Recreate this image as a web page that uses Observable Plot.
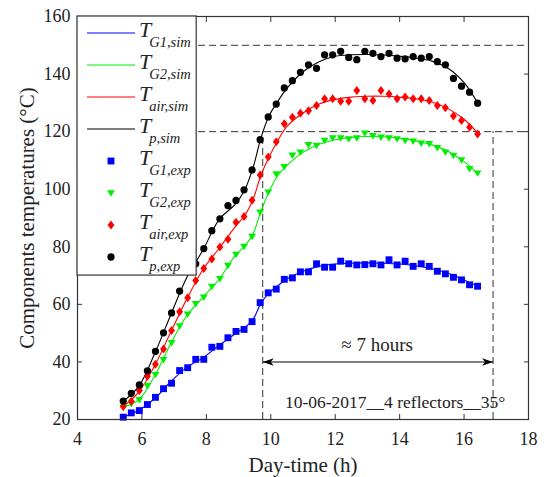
<!DOCTYPE html>
<html><head><meta charset="utf-8">
<script src="https://cdn.jsdelivr.net/npm/d3@7"></script>
<script src="https://cdn.jsdelivr.net/npm/@observablehq/plot@0.6"></script>
<style>
body{margin:0;background:#fff}
#chart{width:544px;height:477px}
#chart svg text, #chart svg tspan{font-family:"Liberation Serif","Times New Roman",serif !important;font-variant:normal !important}
</style>
</head><body><div id="chart"></div>
<script>
// ---- data ----
const expTime = [5.42,5.67,5.92,6.17,6.42,6.67,6.92,7.17,7.42,7.67,7.92,8.17,8.42,8.67,8.92,9.17,9.42,9.67,9.92,10.17,10.42,10.67,10.92,11.17,11.42,11.67,11.92,12.17,12.42,12.67,12.92,13.17,13.42,13.67,13.92,14.17,14.42,14.67,14.92,15.17,15.42,15.67,15.92,16.17,16.42];
const TG1exp = [20.8,22.3,23.1,25.2,27.7,30.7,32.6,37.0,38.0,40.9,40.9,45.1,45.4,48.4,50.6,51.3,54.0,60.6,64.0,65.3,68.7,69.2,71.3,71.3,74.1,72.9,72.9,75.0,74.1,73.7,73.8,74.1,73.7,75.5,73.7,75.0,73.2,74.1,73.2,71.5,70.6,69.4,68.5,66.8,66.3];
const TG2exp = [24.3,25.5,26.9,31.7,35.6,40.8,46.7,52.5,56.6,60.2,62.5,66.2,68.9,73.5,77.3,80.1,83.6,92.0,99.0,105.3,107.8,111.8,112.9,115.5,115.2,116.9,117.8,117.8,117.5,117.8,119.5,118.6,118.1,117.8,117.5,116.9,116.7,116.0,115.8,114.4,112.9,111.7,110.2,107.1,105.6];
const Tairexp = [24.5,26.3,30.1,35.0,39.2,44.5,50.9,57.4,62.3,68.3,72.5,75.8,79.9,82.6,88.5,90.5,96.2,104.9,111.2,116.5,122.7,125.0,126.4,127.3,129.1,131.4,131.4,130.6,130.6,134.3,131.4,130.8,134.3,133.1,131.4,132.0,131.4,131.4,130.8,129.1,128.3,125.4,123.9,121.5,119.2];
const Tpexp = [26.4,29.1,32.0,36.9,43.7,50.1,57.0,64.6,71.5,74.1,79.4,85.6,89.7,94.3,96.1,99.8,106.7,117.2,125.1,129.6,135.2,137.7,140.6,143.2,142.0,146.7,146.7,147.9,145.8,145.0,147.9,147.2,146.1,147.2,145.5,145.3,146.1,145.5,146.1,144.3,143.2,138.5,135.8,133.7,129.9];

const simTime = [5.42,5.9,6.4,6.9,7.4,7.9,8.4,8.9,9.2,9.45,9.7,9.95,10.2,10.5,11,11.5,12,12.5,13,13.5,14,14.5,15,15.5,16,16.42];
const TG1sim = [20.8,23.2,27.3,33.2,38.2,41.5,45.8,49.8,52.0,54.8,60.5,64.0,66.3,68.8,71.5,73.2,74.0,74.3,74.4,74.3,74.0,73.4,72.4,70.8,68.5,66.3];
const TG2sim = [24.3,26.8,35.3,46.5,56.2,62.5,68.8,77.0,80.3,84.5,92.5,99.2,104.5,108.3,112.8,115.6,117.2,118.0,118.3,118.2,117.7,116.8,115.4,113.2,109.6,105.5];
const Tairsim = [24.5,29.5,38.8,50.5,62.0,72.2,79.5,87.0,91.0,96.5,105.0,111.3,116.5,121.8,126.5,129.6,131.2,132.0,132.3,132.3,132.0,131.4,130.3,128.0,124.3,119.5];
const Tpsim = [26.3,31.5,43.0,56.5,69.5,79.0,89.5,94.8,100.0,107.5,118.0,125.6,130.2,135.0,140.8,144.3,146.2,146.7,146.8,146.6,146.2,145.6,144.5,142.0,137.0,130.0];

const xTicks = [4,6,8,10,12,14,16,18];
const yTicks = [20,40,60,80,100,120,140,160];
const seriesKeys = ["G1","G2","air","p"];
const seriesColors = ["#0000ff","#00ee00","#ff0000","#000000"];
const simLabels = ["G1,sim","G2,sim","air,sim","p,sim"];
const expLabels = ["G1,exp","G2,exp","air,exp","p,exp"];

const refLevels = [150,120];          // horizontal dashed lines
const windowEdges = [9.75,16.9];      // vertical dashed lines (≈ 7 hours window)
const windowTop = 120;
const arrowLevel = 40;
const notes = [
  {x:13.3, y:46.0, text:"≈ 7 hours", size:19},
  {x:13.86, y:25.9, text:"10-06-2017__4 reflectors__35°", size:17.5}
];
const legendRight = 7.7, legendBottom = 70;
const xLabel = "Day-time (h)";
const yLabel = "Components temperatures (°C)";

const FONT = "Liberation Serif, Times New Roman, serif";

// ---- symbols ----
const rad = size => Math.sqrt(size/Math.PI);
const symSquare = {draw(c,size){const h=rad(size)*0.93; c.rect(-h,-h,2*h,2*h);}};
const symTriDown = {draw(c,size){const r=rad(size); const w=r*1.08, t=r*0.75, b=r*1.05; c.moveTo(-w,-t); c.lineTo(w,-t); c.lineTo(0,b); c.closePath();}};
const symDiamond = {draw(c,size){const r=rad(size); const w=r*0.95, h=r*1.25; c.moveTo(0,-h); c.lineTo(w,0); c.lineTo(0,h); c.lineTo(-w,0); c.closePath();}};
const symCircle = {draw(c,size){const r=rad(size)*0.98; c.moveTo(r,0); c.arc(0,0,r,0,2*Math.PI);}};
const headLeft = {draw(c){c.moveTo(0,0); c.lineTo(11,-3.8); c.lineTo(8,0); c.lineTo(11,3.8); c.closePath();}};
const headRight = {draw(c){c.moveTo(0,0); c.lineTo(-11,-3.8); c.lineTo(-8,0); c.lineTo(-11,3.8); c.closePath();}};

const symbols = [symSquare, symTriDown, symDiamond, symCircle];
const radii = [3.7, 3.6, 3.6, 3.7];
const expSeries = [TG1exp, TG2exp, Tairexp, Tpexp];
const simSeries = [TG1sim, TG2sim, Tairsim, Tpsim];

const dashStyle = {stroke:"#333", strokeWidth:1, strokeDasharray:"7,4"};

const marks = [];
marks.push(Plot.ruleY(refLevels, {...dashStyle}));
marks.push(Plot.ruleX(windowEdges, {y1:20, y2:windowTop, ...dashStyle}));
seriesKeys.forEach((k,si) => {
  marks.push(Plot.line(simTime.map((t,i)=>({t, v:simSeries[si][i]})),
    {x:"t", y:"v", stroke:seriesColors[si], strokeWidth:1.1, curve:"catmull-rom"}));
});
seriesKeys.forEach((k,si) => {
  marks.push(Plot.dot(expTime.map((t,i)=>({t, v:expSeries[si][i]})),
    {x:"t", y:"v", fill:seriesColors[si], stroke:"none", symbol:symbols[si], r:radii[si]}));
});
marks.push(Plot.link([{a:windowEdges[0], b:windowEdges[1], y:arrowLevel}], {x1:"a", x2:"b", y1:"y", y2:"y", stroke:"#000", strokeWidth:1.1}));
marks.push(Plot.dot([{x:windowEdges[0], y:arrowLevel}], {x:"x", y:"y", symbol:headLeft, fill:"#000", stroke:"none", r:4}));
marks.push(Plot.dot([{x:windowEdges[1], y:arrowLevel}], {x:"x", y:"y", symbol:headRight, fill:"#000", stroke:"none", r:4}));
notes.forEach(n => marks.push(Plot.text([n], {x:"x", y:"y", text:"text", fontSize:n.size, fontFamily:FONT, fill:"#222"})));
marks.push(Plot.axisX(xTicks, {anchor:"bottom", tickSize:0, tickPadding:13, fontSize:18, fontFamily:FONT, fill:"#222"}));
marks.push(Plot.axisY(yTicks, {anchor:"left", tickSize:0, tickPadding:7, fontSize:18, fontFamily:FONT, fill:"#222"}));
const innerX = xTicks.slice(1,-1), innerY = yTicks.slice(1,-1);
marks.push(Plot.axisX(innerX, {anchor:"bottom", tickSize:-5, tickFormat:()=>"", stroke:"#333"}));
marks.push(Plot.axisX(innerX, {anchor:"top", tickSize:-5, tickFormat:()=>"", stroke:"#333"}));
marks.push(Plot.axisY(innerY, {anchor:"left", tickSize:-5, tickFormat:()=>"", stroke:"#333"}));
marks.push(Plot.axisY(innerY, {anchor:"right", tickSize:-5, tickFormat:()=>"", stroke:"#333"}));
marks.push(Plot.frame({stroke:"#333", strokeWidth:1.2}));
marks.push(Plot.text([yLabel], {frameAnchor:"left", rotate:-90, dx:-50, textAnchor:"middle", fontSize:21, fontFamily:FONT, fill:"#222"}));
marks.push(Plot.text([xLabel], {frameAnchor:"bottom", dy:46, lineAnchor:"middle", fontSize:21, fontFamily:FONT, fill:"#222"}));

const chart = Plot.plot({
  width:544, height:477,
  marginLeft:77, marginRight:16, marginTop:16, marginBottom:58,
  x:{domain:[4,18], axis:null},
  y:{domain:[20,160], axis:null},
  style:{fontFamily:FONT, fontSize:"18px", background:"#fff", color:"#222"},
  marks
});

// ---- legend (inside the plot, opaque box) ----
const sx = chart.scale("x"), sy = chart.scale("y");
const lx0 = sx.apply(4), lx1 = sx.apply(legendRight);
const ly0 = sy.apply(160), ly1 = sy.apply(legendBottom);
const svg = d3.select(chart);
const g = svg.append("g").attr("class","legend");
g.append("rect").attr("x",lx0).attr("y",ly0).attr("width",lx1-lx0).attr("height",ly1-ly0)
  .attr("fill","#fff").attr("stroke","#333").attr("stroke-width",1.2);
const rows = [];
seriesKeys.forEach((k,i)=>rows.push({type:"line", i, label:simLabels[i]}));
seriesKeys.forEach((k,i)=>rows.push({type:"dot", i, label:expLabels[i]}));
rows.forEach((row,j) => {
  const yy = ly0 + 17 + j*32;
  if (row.type === "line") {
    g.append("line").attr("x1",lx0+10).attr("x2",lx0+58).attr("y1",yy).attr("y2",yy)
      .attr("stroke",seriesColors[row.i]).attr("stroke-width",1.1);
  } else {
    g.append("path").attr("transform",`translate(${lx0+34},${yy})`)
      .attr("d", d3.symbol().type(symbols[row.i]).size(Math.PI*radii[row.i]*radii[row.i])())
      .attr("fill",seriesColors[row.i]);
  }
  const t = g.append("text").attr("x",lx0+62).attr("y",yy+4).attr("text-anchor","start")
    .attr("font-family",FONT).attr("font-style","italic").attr("fill","#222");
  t.append("tspan").attr("font-size",22).text("T");
  t.append("tspan").attr("font-size",14.5).attr("dy",10).attr("dx",-2).text(row.label);
});

document.getElementById("chart").appendChild(chart);
</script>
</body></html>
